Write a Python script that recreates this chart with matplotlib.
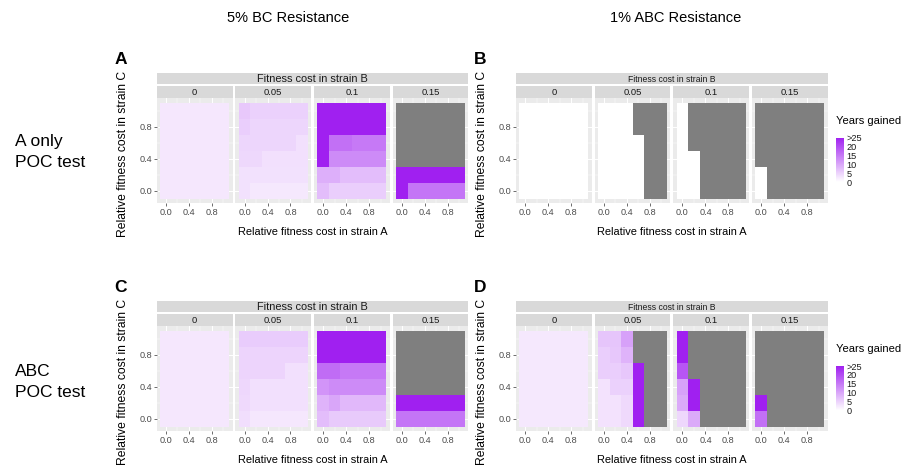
import numpy as np
import matplotlib
matplotlib.use('Agg')
import matplotlib.pyplot as plt
from matplotlib.colors import LinearSegmentedColormap, Normalize
from matplotlib.cm import ScalarMappable

plt.rcParams['font.family'] = ['Liberation Sans', 'DejaVu Sans']

N = np.nan   # not evaluated (grey)
G = 30.0     # ">25" years gained

cost_A = [0.0, 0.2, 0.4, 0.6, 0.8, 1.0]
cost_C = [0.0, 0.2, 0.4, 0.6, 0.8, 1.0]
cost_B_labels = ['0', '0.05', '0.1', '0.15']
tick_vals = [0.0, 0.4, 0.8]
tick_labels = ['0.0', '0.4', '0.8']
legend_breaks = [0, 5, 10, 15, 20, 25]
legend_labels = ['0', '5', '10', '15', '20', '>25']
column_titles = ['5% BC Resistance', '1% ABC Resistance']
row_titles = ['A only\nPOC test', 'ABC\nPOC test']
panel_letters = ['A', 'B', 'C', 'D']

# each grid: rows from strain-C cost 1.0 (top) to 0.0 (bottom), columns strain-A cost 0.0 .. 1.0
A_b000 = [[2.7] * 6 for _ in range(6)]
A_b005 = [[6.2, 5.2, 5.2, 5.2, 5.2, 5.2],
          [5.5, 4.6, 4.6, 4.6, 4.6, 4.6],
          [4.6, 4.6, 4.6, 4.6, 4.6, 3.5],
          [4.4, 4.4, 3.5, 3.5, 3.5, 3.5],
          [3.4, 3.4, 3.4, 3.4, 3.4, 3.4],
          [3.4, 2.6, 2.6, 2.6, 2.6, 2.6]]
A_b010 = [[G, G, G, G, G, G],
          [G, G, G, G, G, G],
          [G, 16, 16, 15, 15, 15],
          [G, 13, 13, 13, 13, 13],
          [9, 9, 7.5, 7.5, 7.5, 7.5],
          [7.5, 5.5, 5.5, 5.5, 5.5, 5.5]]
A_b015 = [[N, N, N, N, N, N],
          [N, N, N, N, N, N],
          [N, N, N, N, N, N],
          [N, N, N, N, N, N],
          [G, G, G, G, G, G],
          [G, 15.5, 15.5, 15.5, 15.5, 15.5]]

B_b000 = [[0] * 6 for _ in range(6)]
B_b005 = [[0, 0, 0, N, N, N],
          [0, 0, 0, N, N, N],
          [0, 0, 0, 0, N, N],
          [0, 0, 0, 0, N, N],
          [0, 0, 0, 0, N, N],
          [0, 0, 0, 0, N, N]]
B_b010 = [[0, N, N, N, N, N],
          [0, N, N, N, N, N],
          [0, N, N, N, N, N],
          [0, 0, N, N, N, N],
          [0, 0, N, N, N, N],
          [0, 0, N, N, N, N]]
B_b015 = [[N, N, N, N, N, N],
          [N, N, N, N, N, N],
          [N, N, N, N, N, N],
          [N, N, N, N, N, N],
          [0, N, N, N, N, N],
          [0, N, N, N, N, N]]

C_b000 = [[2.7] * 6 for _ in range(6)]
C_b005 = [[5.7, 5.7, 5.7, 5.7, 5.7, 5.7],
          [4.8, 4.8, 4.8, 4.8, 4.8, 4.8],
          [4.8, 4.8, 4.8, 4.8, 3.6, 3.6],
          [4.5, 3.6, 3.6, 3.6, 3.6, 3.6],
          [4.3, 3.6, 3.6, 3.6, 3.6, 3.6],
          [3.8, 2.8, 2.8, 2.8, 2.8, 2.8]]
C_b010 = [[G, G, G, G, G, G],
          [G, G, G, G, G, G],
          [16.5, 16.5, 15, 15, 15, 15],
          [12, 13, 13, 13, 13, 13],
          [8.5, 10, 8, 8, 8, 8],
          [7.5, 6, 6, 6, 6, 6]]
C_b015 = [[N, N, N, N, N, N],
          [N, N, N, N, N, N],
          [N, N, N, N, N, N],
          [N, N, N, N, N, N],
          [G, G, G, G, G, G],
          [15.5, 15.5, 15.5, 15.5, 15.5, 15.5]]

D_b000 = [[2.6] * 6 for _ in range(6)]
D_b005 = [[6.5, 6.5, 10.5, N, N, N],
          [5.5, 6.3, 8.5, N, N, N],
          [5.5, 5.5, 6.3, G, N, N],
          [3.3, 5.2, 5.2, G, N, N],
          [3.3, 3.3, 4.3, G, N, N],
          [3.3, 3.3, 4.3, G, N, N]]
D_b010 = [[G, N, N, N, N, N],
          [G, N, N, N, N, N],
          [19, N, N, N, N, N],
          [10.6, G, N, N, N, N],
          [9.5, G, N, N, N, N],
          [4.5, 9.5, N, N, N, N]]
D_b015 = [[N, N, N, N, N, N],
          [N, N, N, N, N, N],
          [N, N, N, N, N, N],
          [N, N, N, N, N, N],
          [G, N, N, N, N, N],
          [16, N, N, N, N, N]]

panels = {
    'A': [A_b000, A_b005, A_b010, A_b015],
    'B': [B_b000, B_b005, B_b010, B_b015],
    'C': [C_b000, C_b005, C_b010, C_b015],
    'D': [D_b000, D_b005, D_b010, D_b015],
}

W, H = 903, 468
fig = plt.figure(figsize=(W / 100, H / 100), dpi=100)


def px_axes(x0, y0, x1, y1, **kw):
    return fig.add_axes([x0 / W, 1 - y1 / H, (x1 - x0) / W, (y1 - y0) / H], **kw)


cmap = LinearSegmentedColormap.from_list('yg', ['#FFFFFF', '#A020F0'])
cmap.set_bad('#7F7F7F')
norm = Normalize(0, 25)

xa = np.array(cost_A)
yc = np.array(cost_C)
x_edges = np.concatenate([xa - 0.1, [xa[-1] + 0.1]])
y_edges = np.concatenate([yc - 0.1, [yc[-1] + 0.1]])

facet_w = 75.8
facet_gap = 78.65
layout = {
    'A': dict(left=156.7, top=72.7, strip_fs=7.9),
    'B': dict(left=516.0, top=72.7, strip_fs=6.2),
    'C': dict(left=156.7, top=300.7, strip_fs=7.9),
    'D': dict(left=516.0, top=300.7, strip_fs=6.2),
}

for key in panel_letters:
    L = layout[key]
    left, top = L['left'], L['top']
    right = left + 3 * facet_gap + facet_w
    # outer strip
    sax = px_axes(left, top, right, top + 11.6, facecolor='#D9D9D9')
    sax.set_xticks([]); sax.set_yticks([])
    for s in sax.spines.values():
        s.set_visible(False)
    sax.text(0.5, 0.45, 'Fitness cost in strain B', ha='center', va='center',
             fontsize=L['strip_fs'], color='#1A1A1A', transform=sax.transAxes)
    for i, grid in enumerate(panels[key]):
        fx0 = left + i * facet_gap
        fx1 = fx0 + facet_w
        st = px_axes(fx0, top + 13.6, fx1, top + 25.6, facecolor='#D9D9D9')
        st.set_xticks([]); st.set_yticks([])
        for s in st.spines.values():
            s.set_visible(False)
        st.text(0.5, 0.45, cost_B_labels[i], ha='center', va='center',
                fontsize=6.8, color='#1A1A1A', transform=st.transAxes)
        ax = px_axes(fx0, top + 25.6, fx1, top + 130.6, facecolor='#EBEBEB')
        arr = np.ma.masked_invalid(np.flipud(np.array(grid, dtype=float)))
        ax.pcolormesh(x_edges, y_edges, arr, cmap=cmap, norm=norm, zorder=2)
        ax.set_xlim(-0.16, 1.16)
        ax.set_ylim(-0.16, 1.16)
        ax.set_xticks(tick_vals)
        ax.set_xticklabels(tick_labels)
        ax.set_xticks([0.2, 0.6, 1.0], minor=True)
        ax.set_yticks(tick_vals)
        ax.set_yticks([0.2, 0.6, 1.0], minor=True)
        ax.grid(which='major', color='white', lw=0.7, zorder=0)
        ax.grid(which='minor', color='white', lw=0.35, zorder=0)
        ax.set_axisbelow(True)
        for s in ax.spines.values():
            s.set_visible(False)
        ax.tick_params(which='major', length=2, width=0.5, color='#333333',
                       labelsize=6.6, labelcolor='#4D4D4D', pad=1.2)
        ax.tick_params(which='minor', length=0)
        if i == 0:
            ax.set_yticklabels(tick_labels)
        else:
            ax.tick_params(axis='y', which='major', length=0, labelleft=False)
    # axis titles
    fig.text((left + right) / 2 / W, 1 - (top + 159) / H, 'Relative fitness cost in strain A',
             ha='center', va='center', fontsize=7.9, color='black')
    fig.text((left - 33.7) / W, 1 - (top + 81.5) / H, 'Relative fitness cost in strain C',
             ha='center', va='center', rotation=90, fontsize=8.7, color='black')
    fig.text((left - 36.2) / W, 1 - (top - 13.7) / H, key, ha='center', va='center',
             fontsize=12.5, fontweight='bold', color='black')

# legends
for ytop in (137.5, 366.0):
    fig.text(836 / W, 1 - (ytop - 16.5) / H, 'Years gained', ha='left', va='center',
             fontsize=8, color='black')
    cax = px_axes(836, ytop, 844, ytop + 44.5)
    cb = fig.colorbar(ScalarMappable(norm=norm, cmap=cmap), cax=cax, ticks=legend_breaks)
    cb.outline.set_visible(False)
    cb.ax.set_yticklabels(legend_labels)
    cb.ax.tick_params(length=0, labelsize=6.6, pad=2, labelcolor='#1A1A1A')

# column and row titles
fig.text(288 / W, 1 - 18 / H, column_titles[0], ha='center', va='center', fontsize=10.5)
fig.text(676 / W, 1 - 18 / H, column_titles[1], ha='center', va='center', fontsize=10.5)
fig.text(15 / W, 1 - 152 / H, row_titles[0], ha='left', va='center', fontsize=12.5, linespacing=1.45)
fig.text(15 / W, 1 - 382 / H, row_titles[1], ha='left', va='center', fontsize=12.5, linespacing=1.45)

fig.savefig('out.png', dpi=100, facecolor='white')
